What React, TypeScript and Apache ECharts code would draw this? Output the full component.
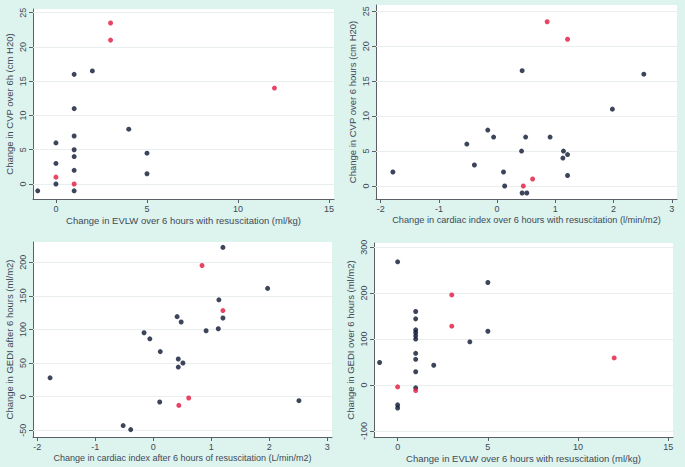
import React, { useEffect, useRef } from "react";
import * as echarts from "echarts";

// Panel 1: EVLW change vs CVP change
const evlwCvpBlack: number[][] = [
  [-1, -1], [0, 0], [0, 3], [0, 6], [1, -1], [1, 2], [1, 4], [1, 5], [1, 7], [1, 11], [1, 16],
  [2, 16.5], [4, 8], [5, 4.5], [5, 1.5],
];
const evlwCvpRed: number[][] = [[0, 1], [1, 0], [3, 21], [3, 23.5], [12, 14]];

// Panel 2: cardiac index change vs CVP change
const ciCvpBlack: number[][] = [
  [-1.79, 2], [-0.52, 6], [-0.39, 3], [-0.16, 8], [-0.06, 7], [0.11, 2], [0.13, 0], [0.43, 16.5],
  [0.42, 5], [0.49, 7], [0.43, -1], [0.51, -1], [0.91, 7], [1.14, 5], [1.13, 4], [1.21, 4.5],
  [1.21, 1.5], [1.98, 11], [2.52, 16],
];
const ciCvpRed: number[][] = [[0.86, 23.5], [1.21, 21], [0.45, 0], [0.61, 1]];

// Panel 3: cardiac index change vs GEDI change
const ciGediBlack: number[][] = [
  [-1.78, 28], [-0.52, -43], [-0.39, -49], [-0.16, 95], [-0.06, 86], [0.12, 67], [0.11, -8],
  [0.41, 119], [0.48, 111], [0.43, 56], [0.43, 44], [0.51, 50], [0.91, 98], [1.12, 101],
  [1.13, 144], [1.2, 117], [1.2, 222], [1.97, 161], [2.51, -6],
];
const ciGediRed: number[][] = [[0.84, 195], [1.2, 128], [0.61, -2], [0.44, -13]];

// Panel 4: EVLW change vs GEDI change
const evlwGediBlack: number[][] = [
  [-1, 49], [0, 268], [0, -43], [0, -50], [1, 160], [1, 144], [1, 120], [1, 114], [1, 107],
  [1, 100], [1, 69], [1, 56], [1, 29], [1, -6], [2, 43], [4, 94], [5, 223], [5, 117],
];
const evlwGediRed: number[][] = [[0, -4], [1, -12], [3, 196], [3, 128], [12, 59]];

// Tick labels
const evlwTicks = [0, 5, 10, 15];
const ciTicks = [-2, -1, 0, 1, 2, 3];
const cvpTicks = [0, 5, 10, 15, 20, 25];
const gediCiTicks = [-50, 0, 50, 100, 150, 200];
const gediEvlwTicks = [-100, 0, 100, 200, 300];

const TEXT = "#3e4a56";
const AXIS = "#5a6066";
const FONT = "'Liberation Sans', Arial, sans-serif";
const BLACK = "#0d1632";
const RED = "#e2153c";

type Panel = {
  grid: { left: number; top: number; width: number; height: number };
  xr: [number, number];
  yr: [number, number];
  xTicks: number[];
  yTicks: number[];
  xName: string;
  yName: string;
  xNameSize: number;
  black: number[][];
  red: number[][];
};

const panels: Panel[] = [
  {
    grid: { left: 33, top: 9, width: 301, height: 190 },
    xr: [-1.26, 15.27],
    yr: [-2.19, 25.54],
    xTicks: evlwTicks,
    yTicks: cvpTicks,
    xName: "Change in EVLW over 6 hours with resuscitation (ml/kg)",
    yName: "Change in CVP over 6h (cm H20)",
    xNameSize: 9.5,
    black: evlwCvpBlack,
    red: evlwCvpRed,
  },
  {
    grid: { left: 376, top: 5, width: 301, height: 194 },
    xr: [-2.08, 3.09],
    yr: [-1.86, 25.9],
    xTicks: ciTicks,
    yTicks: cvpTicks,
    xName: "Change in cardiac index over 6 hours with resuscitation (l/min/m2)",
    yName: "Change in CVP over 6 hours (cm H20)",
    xNameSize: 9.2,
    black: ciCvpBlack,
    red: ciCvpRed,
  },
  {
    grid: { left: 33, top: 242, width: 299, height: 195 },
    xr: [-2.074, 3.08],
    yr: [-60, 230],
    xTicks: ciTicks,
    yTicks: gediCiTicks,
    xName: "Change in cardiac index after 6 hours of resuscitation (L/min/m2)",
    yName: "Change in GEDI after 6 hours (ml/m2)",
    xNameSize: 9,
    black: ciGediBlack,
    red: ciGediRed,
  },
  {
    grid: { left: 374, top: 243, width: 299, height: 194 },
    xr: [-1.31, 15.26],
    yr: [-113, 309],
    xTicks: evlwTicks,
    yTicks: gediEvlwTicks,
    xName: "Change in EVLW over 6 hours with resuscitation (ml/kg)",
    yName: "Change in GEDI over 6 hours (ml/m2)",
    xNameSize: 9.5,
    black: evlwGediBlack,
    red: evlwGediRed,
  },
];

export default function App() {
  const ref = useRef<HTMLDivElement>(null);
  useEffect(() => {
    if (!ref.current) return;
    const chart = echarts.init(ref.current, null, { renderer: "svg" });
    const grids: any[] = [];
    const xAxes: any[] = [];
    const yAxes: any[] = [];
    const series: any[] = [];
    panels.forEach((p, i) => {
      grids.push({
        ...p.grid,
        show: true,
        backgroundColor: "#ffffff",
        borderWidth: 0,
        containLabel: false,
      });
      xAxes.push({
        type: "value",
        gridIndex: i,
        min: p.xr[0],
        max: p.xr[1],
        axisLine: { show: true, onZero: false, lineStyle: { color: AXIS, width: 1 } },
        axisTick: { show: true, customValues: p.xTicks, length: 4, lineStyle: { color: AXIS } },
        axisLabel: {
          customValues: p.xTicks,
          margin: 5,
          fontSize: 9,
          color: TEXT,
          fontFamily: FONT,
        },
        splitLine: { show: false },
        name: p.xName,
        nameLocation: "middle",
        nameGap: 16,
        nameTextStyle: { fontSize: p.xNameSize, color: TEXT, fontFamily: FONT },
      });
      yAxes.push({
        type: "value",
        gridIndex: i,
        min: p.yr[0],
        max: p.yr[1],
        axisLine: { show: true, onZero: false, lineStyle: { color: AXIS, width: 1 } },
        axisTick: { show: true, customValues: p.yTicks, length: 4, lineStyle: { color: AXIS } },
        axisLabel: {
          customValues: p.yTicks,
          rotate: 90,
          align: "center",
          verticalAlign: "bottom",
          margin: 6,
          fontSize: 9,
          color: TEXT,
          fontFamily: FONT,
        },
        splitLine: { show: false },
        name: p.yName,
        nameLocation: "middle",
        nameRotate: 90,
        nameGap: 19,
        nameTextStyle: { fontSize: 9.5, color: TEXT, fontFamily: FONT },
      });
      series.push({
        type: "scatter",
        xAxisIndex: i,
        yAxisIndex: i,
        data: [],
        z: 1,
        silent: true,
        markLine: {
          silent: true,
          z: 1,
          symbol: ["none", "none"],
          label: { show: false },
          lineStyle: { color: "#e9eeee", type: "solid", width: 1 },
          data: p.yTicks.map((v) => ({ yAxis: v })),
        },
      });
      series.push({
        type: "scatter",
        xAxisIndex: i,
        yAxisIndex: i,
        data: p.black,
        symbol: "circle",
        symbolSize: 5,
        itemStyle: { color: BLACK },
        z: 3,
      });
      series.push({
        type: "scatter",
        xAxisIndex: i,
        yAxisIndex: i,
        data: p.red,
        symbol: "circle",
        symbolSize: 5,
        itemStyle: { color: RED },
        z: 4,
      });
    });
    chart.setOption({
      animation: false,
      backgroundColor: "#ddf3ee",
      textStyle: { fontFamily: FONT },
      grid: grids,
      xAxis: xAxes,
      yAxis: yAxes,
      series,
    });
    return () => chart.dispose();
  }, []);
  return (
    <div
      ref={ref}
      style={{ position: "fixed", left: 0, top: 0, width: 685, height: 467 }}
    />
  );
}
